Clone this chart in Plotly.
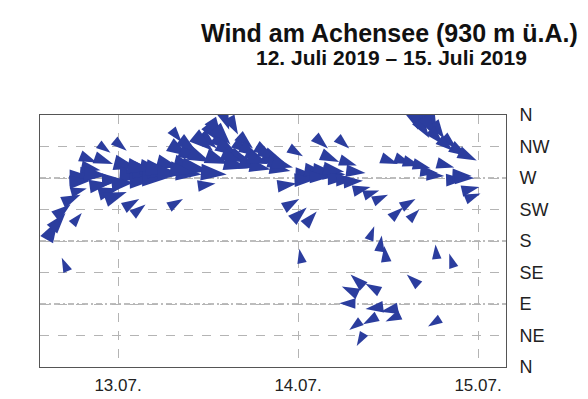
import plotly.graph_objects as go

title = "Wind am Achensee (930 m ü.A.)"
subtitle = "12. Juli 2019 – 15. Juli 2019"

# readings: time, wind direction (deg, from), wind speed (km/h)
times = [
    "2019-07-12 16:00", "2019-07-12 17:00", "2019-07-12 17:40", "2019-07-12 16:30",
    "2019-07-12 19:00", "2019-07-12 19:10", "2019-07-12 19:50", "2019-07-12 21:00",
    "2019-07-12 21:10", "2019-07-12 22:10", "2019-07-12 23:00", "2019-07-12 23:00",
    "2019-07-12 23:20", "2019-07-13 00:10", "2019-07-13 01:10", "2019-07-13 01:10",
    "2019-07-13 02:40", "2019-07-13 02:50", "2019-07-13 03:40", "2019-07-13 03:40",
    "2019-07-13 05:00", "2019-07-13 05:40", "2019-07-13 06:10", "2019-07-13 06:40",
    "2019-07-13 07:40", "2019-07-13 08:10", "2019-07-13 08:40", "2019-07-13 08:30",
    "2019-07-13 09:30", "2019-07-13 10:40", "2019-07-13 11:10", "2019-07-13 11:30",
    "2019-07-13 12:10", "2019-07-13 13:00", "2019-07-13 13:10", "2019-07-13 13:20",
    "2019-07-13 14:30", "2019-07-13 14:50", "2019-07-13 15:00", "2019-07-13 14:50",
    "2019-07-13 16:10", "2019-07-13 16:00", "2019-07-13 17:20", "2019-07-13 17:40",
    "2019-07-13 18:00", "2019-07-13 19:10", "2019-07-13 19:30", "2019-07-13 20:20",
    "2019-07-13 20:40", "2019-07-13 21:40", "2019-07-13 22:10", "2019-07-13 23:00",
    "2019-07-13 23:50", "2019-07-14 00:10", "2019-07-14 00:40", "2019-07-14 01:10",
    "2019-07-14 00:10", "2019-07-14 02:40", "2019-07-14 02:30", "2019-07-14 03:40",
    "2019-07-14 04:00", "2019-07-14 05:00", "2019-07-14 05:30", "2019-07-14 06:20",
    "2019-07-14 07:00", "2019-07-14 06:50", "2019-07-14 07:50", "2019-07-14 05:30",
    "2019-07-14 05:50", "2019-07-14 09:00", "2019-07-14 06:50", "2019-07-14 07:00",
    "2019-07-14 09:40", "2019-07-14 07:50", "2019-07-14 10:50", "2019-07-14 08:40",
    "2019-07-14 10:10", "2019-07-14 09:00", "2019-07-14 09:00", "2019-07-14 12:00",
    "2019-07-14 11:10", "2019-07-14 11:30", "2019-07-14 13:20", "2019-07-14 11:00",
    "2019-07-14 11:40", "2019-07-14 14:00", "2019-07-14 15:10", "2019-07-14 15:40",
    "2019-07-14 16:20", "2019-07-14 16:10", "2019-07-14 14:30", "2019-07-14 16:00",
    "2019-07-14 17:40", "2019-07-14 16:50", "2019-07-14 17:10", "2019-07-14 18:40",
    "2019-07-14 17:50", "2019-07-14 19:30", "2019-07-14 18:30", "2019-07-14 17:20",
    "2019-07-14 18:20", "2019-07-14 19:30", "2019-07-14 20:50", "2019-07-14 21:10",
    "2019-07-14 20:10", "2019-07-14 22:20", "2019-07-14 22:40", "2019-07-14 23:10",
    "2019-07-14 23:30", "2019-07-14 23:50", "2019-07-15 00:10", "2019-07-15 00:20",
    "2019-07-12 20:20", "2019-07-12 21:40", "2019-07-12 22:30", "2019-07-13 00:40",
    "2019-07-13 02:10", "2019-07-13 04:30", "2019-07-13 07:10", "2019-07-13 08:30",
    "2019-07-13 10:10", "2019-07-13 10:30", "2019-07-13 12:20", "2019-07-13 12:40",
    "2019-07-13 13:50", "2019-07-13 15:00", "2019-07-13 16:30", "2019-07-13 17:40",
    "2019-07-13 18:40", "2019-07-13 20:00", "2019-07-13 21:10", "2019-07-13 22:30",
    "2019-07-13 23:20", "2019-07-14 02:20", "2019-07-14 04:10", "2019-07-14 06:10",
    "2019-07-14 07:40", "2019-07-14 08:40", "2019-07-14 16:10", "2019-07-14 17:30",
    "2019-07-14 18:10", "2019-07-14 19:20", "2019-07-14 20:40",
]

direction = [
    210, 220, 232, 156,
    246, 220, 255, 270,
    292, 273, 262, 306,
    290, 255, 250, 309,
    284, 240, 273, 232,
    268, 277, 280, 270,
    277, 285, 240, 321,
    301, 284, 275, 295,
    280, 262, 312, 323,
    275, 290, 309, 339,
    301, 332, 284, 293,
    312, 285, 295, 282,
    301, 290, 293, 280,
    262, 240, 301, 228,
    169, 273, 222, 278,
    312, 277, 293, 275,
    270, 312, 288, 91,
    115, 277, 53, 132,
    257, 30, 252, 61,
    201, 119, 83, 246,
    188, 173, 290, 79,
    65, 228, 290, 240,
    287, 225, 132, 339,
    284, 336, 332, 277,
    341, 273, 336, 58,
    175, 326, 285, 312,
    162, 268, 301, 273,
    270, 295, 257, 248,
    266, 281, 274, 268,
    264, 281, 279, 275,
    278, 307, 293, 309,
    327, 318, 293, 305,
    301, 290, 297, 286,
    285, 268, 271, 279,
    268, 266, 342, 327,
    331, 318, 309,
]

speed = [
    14, 13, 12, 9,
    12, 9, 10, 16,
    11, 15, 13, 9,
    12, 13, 14, 10,
    15, 11, 16, 10,
    16, 17, 15, 16,
    17, 14, 10, 10,
    14, 15, 16, 16,
    17, 11, 13, 12,
    16, 15, 13, 14,
    15, 12, 15, 13,
    12, 14, 12, 13,
    12, 12, 13, 13,
    12, 11, 10, 12,
    9, 14, 11, 13,
    11, 14, 12, 14,
    14, 10, 11, 10,
    11, 12, 9, 11,
    11, 9, 10, 10,
    9, 10, 11, 10,
    10, 10, 11, 11,
    10, 10, 11, 10,
    11, 9, 10, 14,
    11, 14, 13, 11,
    13, 11, 12, 9,
    9, 12, 11, 11,
    9, 12, 12, 12,
    12, 12, 11, 10,
    13, 12, 14, 13,
    14, 15, 16, 15,
    15, 13, 14, 15,
    13, 14, 13, 12,
    12, 13, 12, 12,
    13, 13, 12, 13,
    12, 12, 14, 13,
    13, 12, 11,
]

dir_ticks = [0, 45, 90, 135, 180, 225, 270, 315, 360]
dir_labels = ["N", "NE", "E", "SE", "S", "SW", "W", "NW", "N"]
main_dirs = [90, 180, 270]
date_ticks = ["2019-07-13", "2019-07-14", "2019-07-15"]
date_labels = ["13.07.", "14.07.", "15.07."]

# the page body has an 8px default margin; figure sized to fit the window
OFF = 8
W, H = 588 - OFF, 399 - OFF
ml, mt = 40 - OFF, 115 - OFF
mr, mb = 588 - 506, 399 - 367
pw, ph = W - ml - mr, H - mt - mb

fig = go.Figure()
fig.add_trace(go.Scatter(
    x=times, y=direction, mode="markers", cliponaxis=True,
    marker=dict(
        symbol="arrow",
        angle=[(d + 180) % 360 for d in direction],
        size=[s * 1.7 for s in speed],
        color="#2b3d9e",
        opacity=1,
        line=dict(width=0),
    ),
    hoverinfo="skip",
))

# main compass directions get a heavier dash-dot grid line
for d in main_dirs:
    fig.add_shape(type="line", xref="paper", x0=0, x1=1, yref="y", y0=d, y1=d,
                  layer="below", line=dict(color="#a8a8a8", width=1.3,
                                           dash="6px,3px,2px,3px"))

grid = dict(showgrid=True, gridcolor="#b4b4b4", griddash="dash", gridwidth=1)

fig.update_layout(
    width=W, height=H,
    margin=dict(l=ml, r=mr, t=mt, b=mb, autoexpand=False),
    paper_bgcolor="white", plot_bgcolor="white",
    showlegend=False,
    font=dict(family="Liberation Sans, Arial, sans-serif", color="#222222"),
    xaxis=dict(
        range=["2019-07-12 13:36", "2019-07-15 03:44"],
        tickvals=date_ticks, ticktext=date_labels,
        tickfont=dict(size=17), ticks="", ticklabelstandoff=3,
        showline=True, linecolor="#555555", linewidth=1, mirror=True,
        zeroline=False, automargin=False, **grid,
    ),
    yaxis=dict(
        range=[0, 360], side="right",
        tickvals=dir_ticks, ticktext=dir_labels,
        tickfont=dict(size=18), ticks="", ticklabelstandoff=9,
        showline=True, linecolor="#555555", linewidth=1, mirror=True,
        zeroline=False, automargin=False, **grid,
    ),
    annotations=[
        dict(text="<b>" + title + "</b>", xref="paper", yref="paper",
             x=(389 - 40) / pw, y=1 + (115 - 33) / ph,
             xanchor="center", yanchor="middle", showarrow=False,
             font=dict(size=25, color="#111111")),
        dict(text="<b>" + subtitle + "</b>", xref="paper", yref="paper",
             x=(391 - 40) / pw, y=1 + (115 - 58) / ph,
             xanchor="center", yanchor="middle", showarrow=False,
             font=dict(size=21, color="#111111")),
    ],
)

fig.write_html("out.html")
